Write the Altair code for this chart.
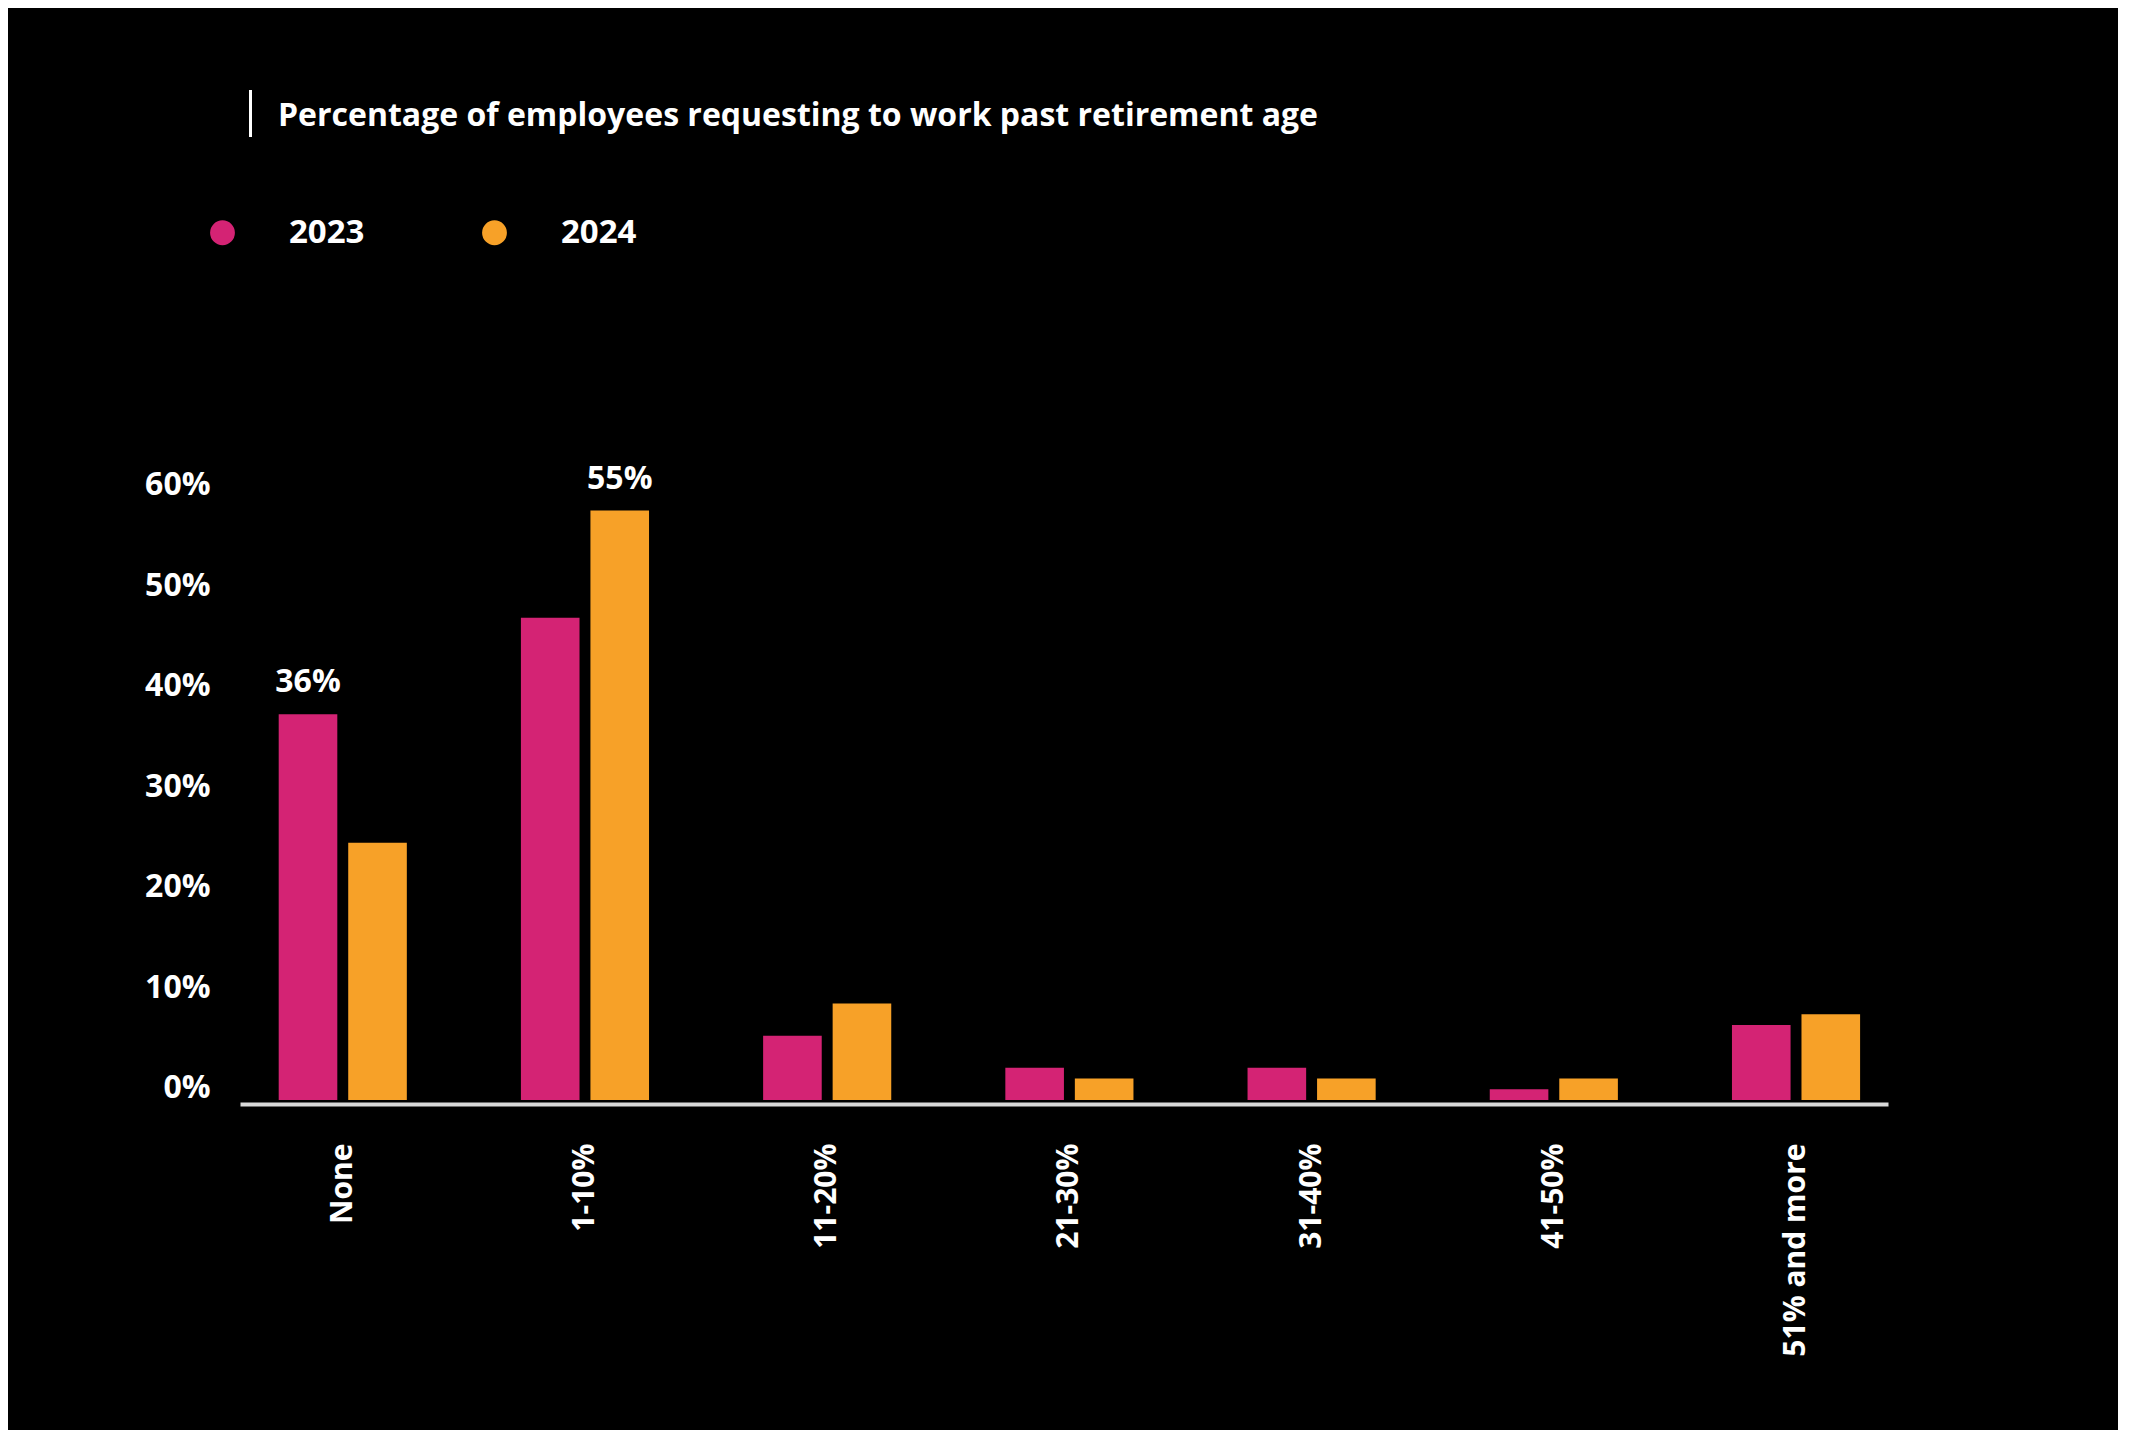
import altair as alt
import pandas as pd

categories = ["None", "1-10%", "11-20%", "21-30%", "31-40%", "41-50%", "51% and more"]
years = ["2023", "2024"]
values_2023 = [36, 45, 6, 3, 3, 1, 7]
values_2024 = [24, 55, 9, 2, 2, 2, 8]
labels_2023 = ["36%", "", "", "", "", "", ""]
labels_2024 = ["", "55%", "", "", "", "", ""]
y_ticks = [0, 10, 20, 30, 40, 50, 60]
colors = ["#D42374", "#F7A128"]
title_text = "Percentage of employees requesting to work past retirement age"

rows = []
for i, c in enumerate(categories):
    rows.append({"category": c, "year": years[0], "value": values_2023[i], "label": labels_2023[i]})
    rows.append({"category": c, "year": years[1], "value": values_2024[i], "label": labels_2024[i]})
df = pd.DataFrame(rows)

FONT = "Open Sans"

x_axis = alt.Axis(
    title=None, labelAngle=-90, labelFont=FONT, labelFontWeight="bold",
    labelFontSize=30, labelColor="white", labelPadding=39, ticks=False, labelLimit=500,
    domain=True, domainColor="#d9d9d9", domainWidth=4, offset=4, grid=False,
)
x_enc = alt.X(
    "category:N", sort=categories,
    scale=alt.Scale(paddingInner=0.471, paddingOuter=0.1375, align=0.581),
    axis=x_axis,
)
xoff = alt.XOffset("year:N", sort=years, scale=alt.Scale(paddingInner=0.157, paddingOuter=0))
bar_scale = alt.Scale(domain=[0, 60], nice=False, zero=True)

bars = alt.Chart(df).mark_bar().encode(
    x=x_enc,
    xOffset=xoff,
    y=alt.Y("value:Q", scale=bar_scale, axis=None),
    color=alt.Color(
        "year:N", sort=years,
        scale=alt.Scale(domain=years, range=colors),
        legend=alt.Legend(
            orient="none", legendX=-34, legendY=-241, direction="horizontal",
            title=None, symbolType="circle", symbolSize=616, symbolStrokeWidth=0,
            symbolOpacity=1, labelFontSize=33, labelFont=FONT, labelFontWeight="bold",
            labelColor="white", labelOffset=50, columnPadding=113,
        ),
    ),
)

texts = alt.Chart(df).transform_filter("datum.label != ''").mark_text(
    font=FONT, fontSize=32, fontWeight="bold", color="white",
    baseline="alphabetic", dy=-22,
).encode(
    x=x_enc,
    xOffset=xoff,
    y=alt.Y("value:Q", scale=bar_scale, axis=None),
    text="label:N",
)

axis_layer = alt.Chart(df).mark_point(opacity=0).encode(
    y=alt.Y(
        "value:Q",
        scale=alt.Scale(domain=[-1.244, 62.74], nice=False, zero=False),
        axis=alt.Axis(
            orient="left", values=y_ticks, labelExpr="datum.value + '%'",
            title=None, ticks=False, domain=False, grid=False, labelPadding=30,
            labelFont=FONT, labelFontSize=32, labelFontWeight="bold", labelColor="white",
        ),
    ),
)

deco = alt.Data(values=[{"t": title_text}])

rule = alt.Chart(deco).mark_rule(color="white", strokeWidth=3).encode(
    x=alt.value(10.5), y=alt.value(-367), y2=alt.value(-320)
)

title_mark = alt.Chart(deco).mark_text(
    font=FONT, fontSize=32, fontWeight="bold", color="white",
    align="left", baseline="alphabetic",
).encode(
    x=alt.value(38), y=alt.value(-331), text="t:N"
)

chart = alt.layer(bars, texts, axis_layer, rule, title_mark).resolve_scale(y="independent").properties(
    width=1648,
    height=643,
    autosize=alt.AutoSizeParams(type="none"),
    padding={"left": 232, "top": 449, "right": 230, "bottom": 330},
    background="black",
).configure_view(stroke=None)

chart.save("out.html", embed_options={"renderer": "svg", "actions": False})
